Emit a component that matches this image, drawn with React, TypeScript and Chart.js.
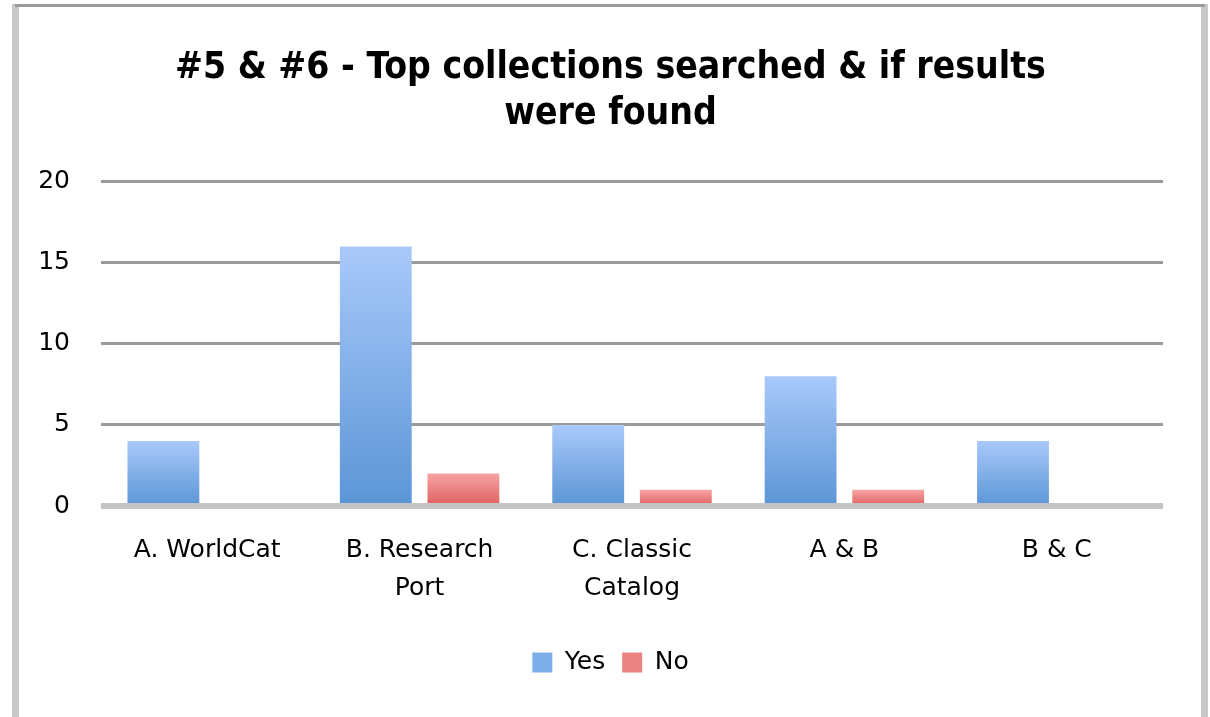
import React, { useEffect, useRef } from "react";
import { Chart, registerables } from "chart.js";

Chart.register(...registerables);

const titleLines = ["#5 & #6 - Top collections searched & if results", "were found"];
const categories: (string | string[])[] = [
  "A. WorldCat",
  ["B. Research", "Port"],
  ["C. Classic", "Catalog"],
  "A & B",
  "B & C",
];
const yesValues = [4, 16, 5, 8, 4];
const noValues = [0, 2, 1, 1, 0];
const seriesNames = ["Yes", "No"];
const yMin = 0;
const yMax = 20;
const yStep = 5;

const LABEL_FONT = '"DejaVu Sans", "Open Sans", sans-serif';
const TITLE_FONT = '"Liberation Sans Narrow", "DejaVu Sans Condensed", "Liberation Sans", sans-serif';

function gradientFill(top: string, bottom: string, solid: string) {
  return (ctx: any) => {
    const chart = ctx.chart;
    if (ctx.type !== "data" || !chart.chartArea || !chart.scales || !chart.scales.y) return solid;
    const y = chart.scales.y;
    const v = ctx.raw as number;
    const yTop = y.getPixelForValue(v);
    const yBot = y.getPixelForValue(0);
    if (!isFinite(yTop) || !isFinite(yBot) || yTop === yBot) return solid;
    const g = chart.ctx.createLinearGradient(0, yTop, 0, yBot);
    g.addColorStop(0, top);
    g.addColorStop(1, bottom);
    return g;
  };
}

// Centre the title and legend on the whole frame rather than the layout width.
const centerBlocks = {
  id: "centerBlocks",
  afterLayout(chart: any) {
    const shift = 58;
    if (chart.titleBlock) chart.titleBlock.left = shift;
    if (chart.legend) chart.legend.left = shift;
  },
};

export default function App() {
  const ref = useRef<HTMLCanvasElement | null>(null);

  useEffect(() => {
    document.body.style.margin = "0";
    const canvas = ref.current;
    if (!canvas) return;
    const chart = new Chart(canvas, {
      type: "bar",
      data: {
        labels: categories,
        datasets: [
          {
            label: seriesNames[0],
            data: yesValues,
            backgroundColor: gradientFill("#a9c9fa", "#5b95d6", "#7eaee8"),
            borderWidth: 0,
            barPercentage: 0.82,
            categoryPercentage: 0.825,
          },
          {
            label: seriesNames[1],
            data: noValues,
            backgroundColor: gradientFill("#f7a3a3", "#df5f5f", "#ec8383"),
            borderWidth: 0,
            barPercentage: 0.82,
            categoryPercentage: 0.825,
          },
        ],
      },
      plugins: [centerBlocks],
      options: {
        animation: false,
        responsive: false,
        maintainAspectRatio: false,
        layout: { padding: { left: 0, right: 47, top: 0, bottom: 32 } },
        plugins: {
          title: {
            display: true,
            text: titleLines,
            color: "#000",
            font: { family: TITLE_FONT, size: 37, weight: "bold", lineHeight: 1.25 },
            padding: { top: 45, bottom: 44 },
          },
          legend: {
            display: true,
            position: "bottom",
            labels: {
              color: "#000",
              font: { family: LABEL_FONT, size: 25 },
              boxWidth: 20,
              boxHeight: 20,
              padding: 17,
              generateLabels: (ch: any) =>
                ch.data.datasets.map((ds: any, i: number) => ({
                  text: ds.label,
                  fillStyle: i === 0 ? "#7eaee8" : "#ec8383",
                  strokeStyle: "transparent",
                  lineWidth: 0,
                  hidden: false,
                  datasetIndex: i,
                })),
            },
          },
          tooltip: { enabled: false },
        },
        scales: {
          x: {
            grid: { display: false, drawTicks: false },
            border: { display: false },
            ticks: {
              color: "#000",
              font: { family: LABEL_FONT, size: 25, lineHeight: 1.5 },
              padding: 26,
              maxRotation: 0,
              autoSkip: false,
            },
          },
          y: {
            min: yMin,
            max: yMax,
            afterFit: (scale: any) => {
              scale.width = 101;
            },
            grid: {
              drawTicks: false,
              color: (c: any) => (c.tick && c.tick.value === 0 ? "#c4c4c4" : "#9a9a9a"),
              lineWidth: (c: any) => (c.tick && c.tick.value === 0 ? 6 : 3),
            },
            border: { display: false },
            ticks: {
              stepSize: yStep,
              color: "#000",
              font: { family: LABEL_FONT, size: 25 },
              padding: 31,
            },
          },
        },
      },
    });
    return () => chart.destroy();
  }, []);

  return (
    <div style={{ position: "absolute", left: 0, top: 0, width: 1210, height: 717, background: "#fff", overflow: "hidden" }}>
      <div style={{ position: "absolute", left: 12, top: 4, width: 7, height: 720, background: "#c8c8c8" }} />
      <div style={{ position: "absolute", left: 1201, top: 4, width: 7, height: 720, background: "#c8c8c8" }} />
      <div style={{ position: "absolute", left: 15, top: 4, width: 1190, height: 3, background: "#9a9a9a" }} />
      <canvas ref={ref} width={1210} height={717} style={{ position: "absolute", left: 0, top: 0 }} />
    </div>
  );
}
